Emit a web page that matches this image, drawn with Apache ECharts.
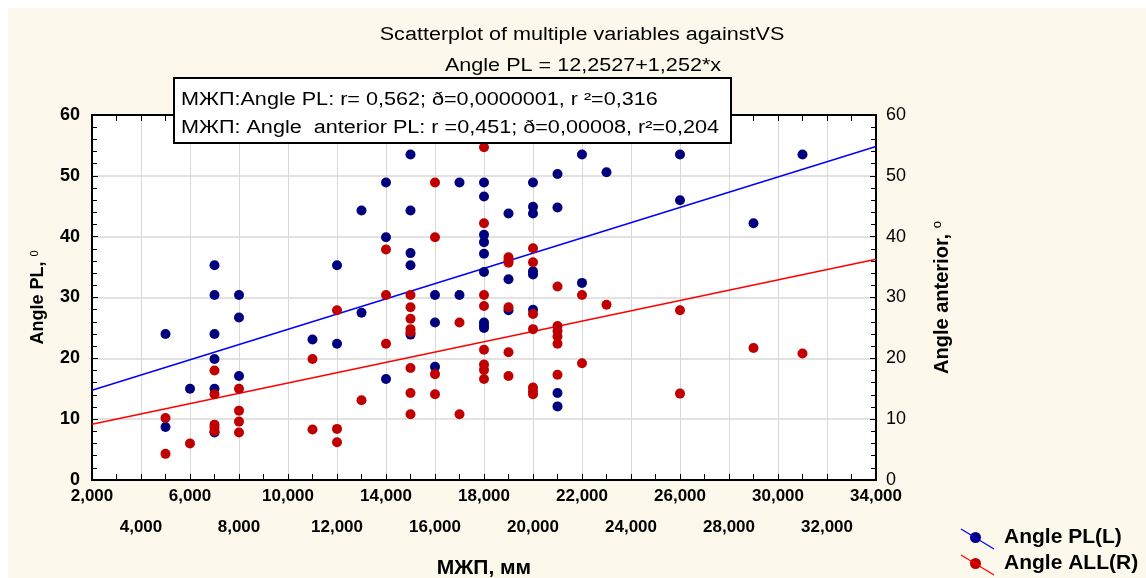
<!DOCTYPE html>
<html>
<head>
<meta charset="utf-8">
<script src="https://cdn.jsdelivr.net/npm/echarts@6/dist/echarts.min.js"></script>
<style>
  html, body { margin: 0; padding: 0; background: #fff; }
  #chart { width: 1146px; height: 578px; }
</style>
</head>
<body>
<div id="chart"></div>
<script>
// МЖП, мм (x) и углы (y)
var plX = [5000, 5000, 6000, 7000, 7000, 7000, 7000, 7000, 7000, 8000, 8000, 8000,
  11000, 12000, 12000, 13000, 13000, 14000, 14000, 14000,
  15000, 15000, 15000, 15000, 15000, 16000, 16000, 16000, 17000, 17000,
  18000, 18000, 18000, 18000, 18000, 18000, 18000, 18000, 18000,
  19000, 19000, 19000, 20000, 20000, 20000, 20000, 20000, 20000,
  21000, 21000, 21000, 21000, 22000, 22000, 23000, 26000, 26000, 29000, 31000];
var plY = [24.0, 8.7, 15.0, 35.3, 30.4, 24.0, 19.9, 15.0, 7.8, 30.4, 26.7, 17.1,
  23.1, 35.3, 22.4, 44.3, 27.5, 48.9, 39.9, 16.6,
  53.5, 44.3, 37.3, 35.3, 23.9, 30.4, 25.9, 18.6, 48.9, 30.4,
  48.9, 46.6, 40.3, 39.1, 37.2, 34.2, 25.9, 25.4, 25.0,
  43.8, 33.0, 27.9, 48.9, 44.9, 43.8, 34.3, 33.8, 28.0,
  50.3, 44.8, 14.3, 12.1, 53.5, 32.4, 50.6, 53.5, 46.0, 42.2, 53.5];

var allX = [5000, 5000, 6000, 7000, 7000, 7000, 7000, 7000, 8000, 8000, 8000, 8000,
  11000, 11000, 12000, 12000, 12000, 13000, 14000, 14000, 14000,
  15000, 15000, 15000, 15000, 15000, 15000, 15000, 15000,
  16000, 16000, 16000, 16000, 17000, 17000,
  18000, 18000, 18000, 18000, 18000, 18000, 18000, 18000,
  19000, 19000, 19000, 19000, 19000, 19000,
  20000, 20000, 20000, 20000, 20000, 20000, 20000,
  21000, 21000, 21000, 21000, 21000, 21000,
  22000, 22000, 23000, 26000, 26000, 29000, 31000];
var allY = [10.2, 4.3, 6.0, 18.0, 14.1, 9.1, 8.6, 8.0, 15.0, 11.4, 9.6, 7.8,
  19.9, 8.3, 27.9, 8.4, 6.2, 13.1, 37.9, 30.4, 22.4,
  30.4, 28.4, 26.5, 24.8, 24.3, 18.4, 14.3, 10.8,
  48.9, 39.9, 17.4, 14.1, 25.9, 10.8,
  54.7, 42.2, 30.4, 28.6, 21.4, 19.0, 18.1, 16.6,
  36.6, 36.1, 35.7, 28.4, 21.0, 17.1,
  38.1, 35.8, 27.3, 24.8, 15.2, 14.6, 14.1,
  31.8, 25.3, 24.5, 23.6, 22.4, 17.3,
  30.4, 19.2, 28.8, 27.9, 14.2, 21.7, 20.8];

// концы линий регрессии
var plLineX = [2000, 34000];
var plLineY = [14.76, 54.82];
var allLineX = [2000, 34000];
var allLineY = [9.15, 36.3];

function pairs(xs, ys) {
  var out = [];
  for (var i = 0; i < xs.length; i++) out.push([xs[i], ys[i]]);
  return out;
}

// подписи оси X в два ряда
function rowLabel(row) {
  return function (v) {
    var r = ((v - 2000) / 2000) % 2;
    return r === row ? v.toLocaleString('en-US') : '';
  };
}

(function () {
  var myChart = echarts.init(document.getElementById('chart'));
  var font = 'Liberation Sans, Arial, sans-serif';
  var legendText = {
    fontFamily: font, fontSize: 21, fontWeight: 'bold', color: '#000',
    rich: { t: { fontFamily: font, fontSize: 21, fontWeight: 'bold', color: '#000', padding: [0, 0, 0, 18] } }
  };
  var option = {
    animation: false,
    backgroundColor: '#fcf8ec',
    textStyle: { fontFamily: font, color: '#000' },
    grid: {
      left: 92, top: 115, right: 270, bottom: 98,
      containLabel: false, outerBoundsMode: 'none',
      show: true, backgroundColor: '#fff', borderColor: '#000', borderWidth: 1.5
    },
    legend: [
      { data: ['Angle PL(L)'], left: 970, top: 527, padding: 0, itemWidth: 11, itemHeight: 11,
        icon: 'circle', selectedMode: false, formatter: '{t|{name}}', textStyle: legendText },
      { data: ['Angle ALL(R)'], left: 970, top: 553, padding: 0, itemWidth: 11, itemHeight: 11,
        icon: 'circle', selectedMode: false, formatter: '{t|{name}}', textStyle: legendText }
    ],
    xAxis: [
      {
        type: 'value', min: 2000, max: 34000, interval: 2000, position: 'bottom',
        name: 'МЖП, мм', nameLocation: 'middle', nameGap: 78,
        nameTextStyle: { fontFamily: font, fontSize: 21, fontWeight: 'bold', color: '#000' },
        axisLine: { show: true, onZero: false, lineStyle: { color: '#000', width: 2 } },
        axisTick: { show: true, inside: true, length: 6, lineStyle: { color: '#000' } },
        minorTick: { show: true, splitNumber: 2, length: 6, lineStyle: { color: '#000' } },
        splitLine: { show: true, lineStyle: { color: '#d9d9d9', width: 1 } },
        axisLabel: {
          margin: 6, lineHeight: 20, fontFamily: font, fontSize: 17, fontWeight: 'bold', color: '#000',
          showMinLabel: true, showMaxLabel: true, hideOverlap: false,
          formatter: rowLabel(0)
        }
      },
      {
        type: 'value', min: 2000, max: 34000, interval: 2000, position: 'top',
        axisLine: { show: true, onZero: false, lineStyle: { color: '#000', width: 2 } },
        axisTick: { show: true, inside: true, length: 6, lineStyle: { color: '#000' } },
        minorTick: { show: true, splitNumber: 2, length: 6, lineStyle: { color: '#000' } },
        splitLine: { show: false },
        axisLabel: { show: false }
      },
      {
        type: 'value', min: 2000, max: 34000, interval: 2000, position: 'bottom', offset: 0,
        axisLine: { show: false },
        axisTick: { show: false },
        splitLine: { show: false },
        axisLabel: {
          margin: 37, lineHeight: 20, fontFamily: font, fontSize: 17, fontWeight: 'bold', color: '#000',
          showMinLabel: true, showMaxLabel: true, hideOverlap: false,
          formatter: rowLabel(1)
        }
      }
    ],
    yAxis: [
      {
        type: 'value', min: 0, max: 60, interval: 10,
        name: 'Angle PL, {sup|0}', nameLocation: 'middle', nameGap: 44, nameRotate: 90,
        nameTextStyle: { fontFamily: font, fontSize: 18, fontWeight: 'bold', color: '#000',
          rich: { sup: { fontSize: 11, fontWeight: 'normal', verticalAlign: 'top', padding: [0, 0, 8, 0] } } },
        axisLine: { show: true, onZero: false, lineStyle: { color: '#000', width: 2 } },
        axisTick: { show: true, inside: true, length: 6, lineStyle: { color: '#000' } },
        minorTick: { show: true, splitNumber: 5, length: 5, lineStyle: { color: '#000' } },
        splitLine: { show: true, lineStyle: { color: '#e2e2e2', width: 2 } },
        axisLabel: { margin: 12, fontFamily: font, fontSize: 18, fontWeight: 'bold', color: '#000' }
      },
      {
        type: 'value', min: 0, max: 60, interval: 10, position: 'right',
        name: 'Angle anterior, {sup|o}', nameLocation: 'middle', nameGap: 55, nameRotate: 90,
        nameTextStyle: { fontFamily: font, fontSize: 20, fontWeight: 'bold', color: '#000',
          rich: { sup: { fontSize: 13, fontWeight: 'normal', verticalAlign: 'top', padding: [0, 0, 9, 0] } } },
        axisLine: { show: true, onZero: false, lineStyle: { color: '#000', width: 2 } },
        axisTick: { show: true, inside: true, length: 6, lineStyle: { color: '#000' } },
        minorTick: { show: true, splitNumber: 5, length: 5, lineStyle: { color: '#000' } },
        splitLine: { show: false },
        axisLabel: { margin: 10, fontFamily: font, fontSize: 18, fontWeight: 'normal', color: '#000' }
      }
    ],
    graphic: [
      { type: 'rect', shape: { x: 0, y: 0, width: 1146, height: 8 }, style: { fill: '#fff' }, silent: true },
      { type: 'rect', shape: { x: 0, y: 0, width: 8, height: 578 }, style: { fill: '#fff' }, silent: true },
      { type: 'text', x: 582, y: 35, scaleX: 1.2,
        style: { text: 'Scatterplot of multiple variables againstVS', font: '18px ' + font, fill: '#000',
          textAlign: 'center', textVerticalAlign: 'middle' } },
      { type: 'text', x: 583, y: 66, scaleX: 1.2,
        style: { text: 'Angle PL = 12,2527+1,252*x', font: '18px ' + font, fill: '#000',
          textAlign: 'center', textVerticalAlign: 'middle' } },
      { type: 'rect', z: 100, shape: { x: 174, y: 78, width: 557, height: 65 },
        style: { fill: '#fff', stroke: '#000', lineWidth: 2 } },
      { type: 'text', z: 101, x: 181, y: 100, scaleX: 1.2,
        style: { text: 'МЖП:Angle PL: r= 0,562; ð=0,0000001, r ²=0,316', font: '18px ' + font, fill: '#000',
          textAlign: 'left', textVerticalAlign: 'middle' } },
      { type: 'text', z: 101, x: 181, y: 128, scaleX: 1.2,
        style: { text: 'МЖП: Angle  anterior PL: r =0,451; ð=0,00008, r²=0,204', font: '18px ' + font, fill: '#000',
          textAlign: 'left', textVerticalAlign: 'middle' } },
      { type: 'line', z: 100, shape: { x1: 961, y1: 529, x2: 994, y2: 549 }, style: { stroke: '#0000ff', lineWidth: 1.2 } },
      { type: 'line', z: 100, shape: { x1: 961, y1: 555, x2: 994, y2: 575 }, style: { stroke: '#ff0000', lineWidth: 1.2 } }
    ],
    series: [
      {
        name: 'PL fit', type: 'line', xAxisIndex: 0, yAxisIndex: 0,
        data: pairs(plLineX, plLineY), symbol: 'none', silent: true,
        lineStyle: { color: '#0000ff', width: 1.5 }, z: 1
      },
      {
        name: 'ALL fit', type: 'line', xAxisIndex: 0, yAxisIndex: 1,
        data: pairs(allLineX, allLineY), symbol: 'none', silent: true,
        lineStyle: { color: '#ff0000', width: 1.5 }, z: 1
      },
      {
        name: 'Angle PL(L)', type: 'scatter', xAxisIndex: 0, yAxisIndex: 0,
        data: pairs(plX, plY), symbolSize: 10,
        itemStyle: { color: '#00007f', opacity: 1 }, z: 2
      },
      {
        name: 'Angle ALL(R)', type: 'scatter', xAxisIndex: 0, yAxisIndex: 1,
        data: pairs(allX, allY), symbolSize: 10,
        itemStyle: { color: '#c00000', opacity: 1 }, z: 3
      }
    ]
  };
  myChart.setOption(option);
  window.addEventListener('resize', function () {
    myChart.resize();
  });
})();
</script>
</body>
</html>
